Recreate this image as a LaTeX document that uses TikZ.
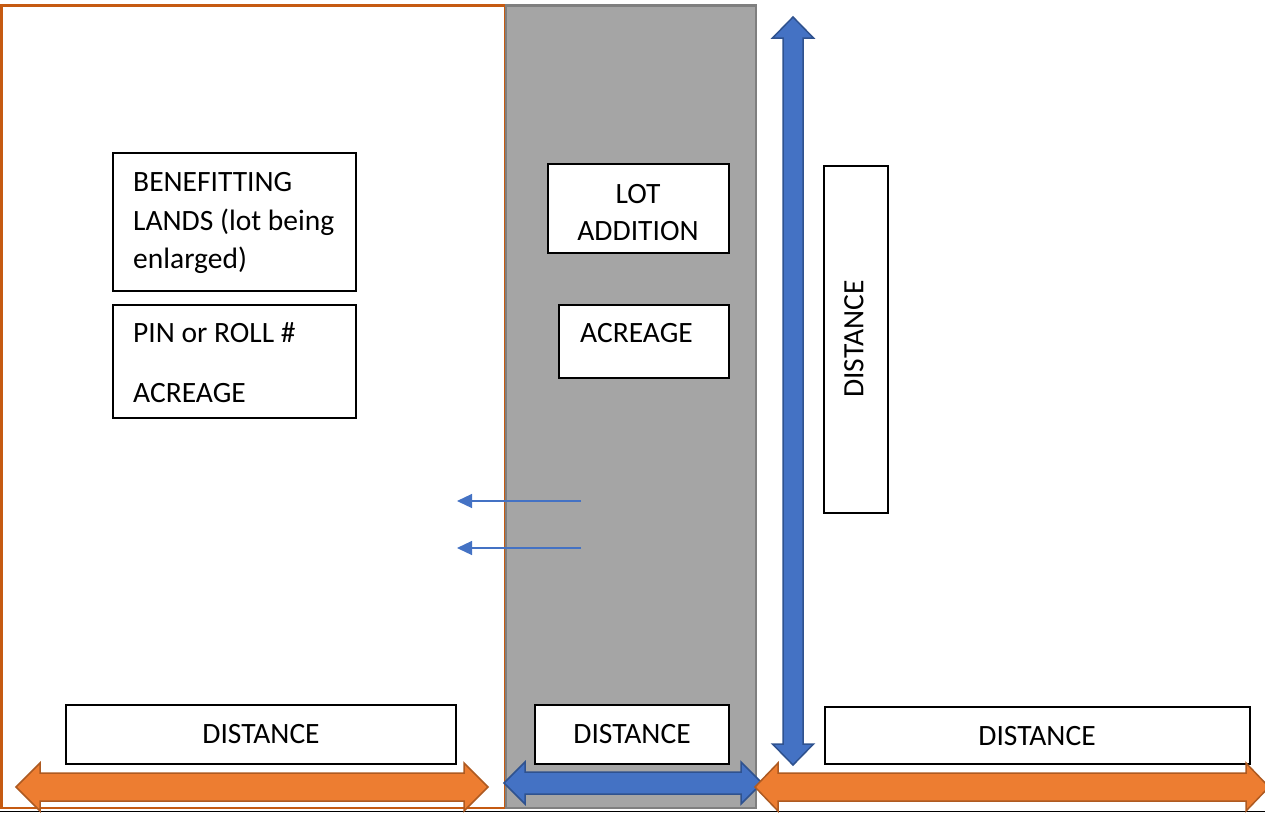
\documentclass[tikz,border=0pt]{standalone}
\usepackage{fontspec}
\setmainfont{Carlito}
\usetikzlibrary{arrows.meta}
\definecolor{orFill}{HTML}{ED7D31}
\definecolor{orLine}{HTML}{AE5A21}
\definecolor{orRect}{HTML}{C55A11}
\definecolor{blFill}{HTML}{4472C4}
\definecolor{blLine}{HTML}{2F528F}
\definecolor{grFill}{HTML}{A5A5A5}
\definecolor{grLine}{HTML}{7F7F7F}
\tikzset{
  box/.style={draw=black, line width=1.2pt, fill=white, inner sep=0pt, rectangle},
  txt/.style={inner sep=0pt, font=\fontsize{29.5}{35}\selectfont},
  orarrow/.style={fill=orFill, draw=orLine, line width=1.5pt, line join=miter},
  blarrow/.style={fill=blFill, draw=blLine, line width=1.5pt, line join=miter},
  thin/.style={draw=blFill, line width=1.2pt, -{Triangle[length=15pt,width=14pt]}}
}
\begin{document}
\begin{tikzpicture}[x=1pt,y=-1pt]
\useasboundingbox (0,0) rectangle (1265,814);
\fill[white] (0,0) rectangle (1265,814);
% regions
\draw[orRect, line width=2.5pt] (1.5,5.5) rectangle (505,808);
\draw[fill=grFill, draw=grLine, line width=2.5pt] (506,5.5) rectangle (756,808);
\draw[black, line width=1pt] (0,811.5) -- (1265,811.5);
% boxes
\node[box, minimum width=243pt, minimum height=138pt] (benef) at (234.5,222) {};
\node[txt, anchor=base west] (benefA) at (133,191) {BENEFITTING};
\node[txt, anchor=base west] (benefB) at (133,230) {LANDS (lot being};
\node[txt, anchor=base west] (benefC) at (133,268) {enlarged)};
\node[box, minimum width=243pt, minimum height=113pt] (pin) at (234.5,361.5) {};
\node[txt, anchor=base west] (pinA) at (133,342) {PIN or ROLL \#};
\node[txt, anchor=base west] (pinB) at (133,402) {ACREAGE};
\node[box, minimum width=181pt, minimum height=89pt] (lot) at (638.5,208.5) {};
\node[txt, anchor=base] (lotA) at (638,203) {LOT};
\node[txt, anchor=base] (lotB) at (638,240) {ADDITION};
\node[box, minimum width=170pt, minimum height=73pt] (acr) at (644,341.5) {};
\node[txt, anchor=base west] (acrA) at (580,342) {ACREAGE};
\node[box, minimum width=64pt, minimum height=347pt] (vdist) at (856,339.5) {};
\node[txt, rotate=90] (vdistT) at (854,339) {DISTANCE};
\node[box, minimum width=390pt, minimum height=59pt] (d1) at (261,734.5) {};
\node[txt, anchor=base] (d1T) at (261,743) {DISTANCE};
\node[box, minimum width=194pt, minimum height=59pt] (d2) at (632,734.5) {};
\node[txt, anchor=base] (d2T) at (632,743) {DISTANCE};
\node[box, minimum width=425pt, minimum height=57pt] (d3) at (1037.5,735.5) {};
\node[txt, anchor=base] (d3T) at (1037,745) {DISTANCE};
% thin arrows
\coordinate (a1s) at (581,501);
\coordinate (a1e) at (457,501);
\coordinate (a2s) at (581,548);
\coordinate (a2e) at (457,548);
\draw[thin] (a1s) -- (a1e);
\draw[thin] (a2s) -- (a2e);
% block arrows
\draw[blarrow] (793,17) -- (813.5,38) -- (803,38) -- (803,744) -- (813.5,744) -- (793,765) -- (772.5,744) -- (783,744) -- (783,38) -- (772.5,38) -- cycle;
\draw[orarrow] (16,787) -- (40,763) -- (40,773) -- (464,773) -- (464,763) -- (488,787) -- (464,811) -- (464,801) -- (40,801) -- (40,811) -- cycle;
\draw[blarrow] (504,783) -- (525,762) -- (525,772) -- (741,772) -- (741,762) -- (762,783) -- (741,804) -- (741,794) -- (525,794) -- (525,804) -- cycle;
\draw[orarrow] (755,787) -- (778,763) -- (778,773) -- (1246,773) -- (1246,763) -- (1269,787) -- (1246,811) -- (1246,801) -- (778,801) -- (778,811) -- cycle;
\end{tikzpicture}
\end{document}
